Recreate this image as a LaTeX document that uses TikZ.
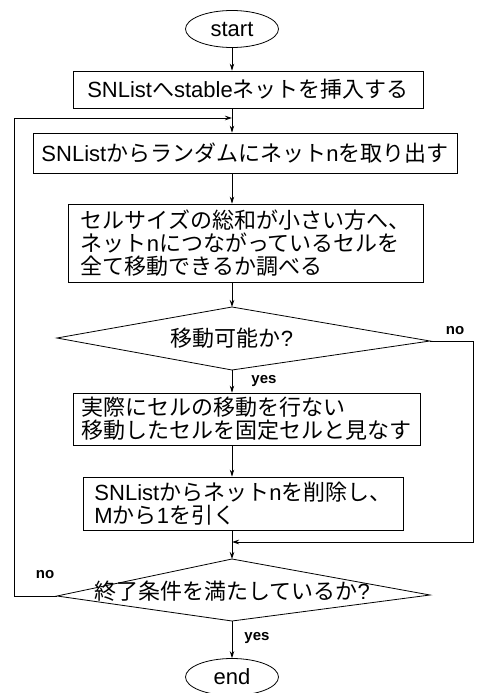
\documentclass[tikz,border=0pt]{standalone}
\usepackage{fontspec}
\setmainfont{Liberation Sans}
\newfontfamily\jp{Noto Sans CJK JP}
\usetikzlibrary{shapes.geometric,arrows.meta,calc}
\begin{document}
\begin{tikzpicture}[x=1pt,y=-1pt,line width=0.8pt,
  box/.style={draw,rectangle,inner sep=0pt,align=left,font=\fontsize{22}{23}\selectfont},
  term/.style={draw,ellipse,minimum width=93pt,minimum height=37pt,inner sep=0pt,font=\fontsize{22}{23}\selectfont},
  dtext/.style={inner sep=0pt,font=\fontsize{22}{23}\selectfont},
  lbl/.style={inner sep=0pt,font=\fontsize{15}{15}\selectfont\bfseries},
  arr/.style={-{Stealth[length=7pt,width=4.5pt]}}]
\useasboundingbox (0,0) rectangle (479,693);

\node[term] (start) at (232,29) {start};
\node[box,minimum width=350pt,minimum height=37pt] (b1) at (248,89.5)
  {SNList{\jp へ}stable{\jp ネットを挿入する}};
\node[box,minimum width=424pt,minimum height=40pt] (b2) at (245,153)
  {SNList{\jp からランダムにネット}n{\jp を取り出す}};
\node[box,minimum width=355pt,minimum height=78pt] (b3) at (245.5,243)
  {{\jp セルサイズの総和が小さい方へ、}\\{\jp ネット}n{\jp につながっているセルを}\\{\jp 全て移動できるか調べる}};

\coordinate (d1t) at (232,307);
\coordinate (d1r) at (430,341);
\coordinate (d1b) at (232,370);
\coordinate (d1l) at (57,338);
\draw (d1t) -- (d1r) -- (d1b) -- (d1l) -- cycle;
\node[dtext] (d1) at (232,338) {{\jp 移動可能か}?};

\node[box,minimum width=347pt,minimum height=52pt] (b4) at (246.5,419)
  {{\jp 実際にセルの移動を行ない}\\{\jp 移動したセルを固定セルと見なす}};
\node[box,minimum width=320pt,minimum height=53pt] (b5) at (243,503.5)
  {SNList{\jp からネット}n{\jp を削除し、}\\M{\jp から}1{\jp を引く}};

\coordinate (d2t) at (232,559);
\coordinate (d2r) at (430,595);
\coordinate (d2b) at (232,621);
\coordinate (d2l) at (57,596);
\draw (d2t) -- (d2r) -- (d2b) -- (d2l) -- cycle;
\node[dtext] (d2) at (232,591) {{\jp 終了条件を満たしているか}?};

\node[term] (end) at (232,677) {end};

\coordinate (loopin) at (232,118);
\coordinate (rin) at (232,542);

\draw[arr] (start.south) -- (start.south |- b1.north);
\draw[arr] (b1.south -| start) -- (b2.north -| start);
\draw[arr] (b2.south -| start) -- (b3.north -| start);
\draw[arr] (b3.south -| start) -- (d1t);
\draw[arr] (d1b) -- (b4.north -| start);
\draw[arr] (b4.south -| start) -- (b5.north -| start);
\draw[arr] (b5.south -| start) -- (d2t);
\draw[arr] (d2b) -- (end.north);

\draw[arr] (d1r) -- ++(43,0) |- (rin);
\draw[arr] (d2l) -- ++(-43,0) |- (loopin);

\node[lbl] (no1) at (455,331) {no};
\node[lbl] (yes1) at (264,381) {yes};
\node[lbl] (no2) at (45,575) {no};
\node[lbl] (yes2) at (257,638) {yes};
\end{tikzpicture}
\end{document}
